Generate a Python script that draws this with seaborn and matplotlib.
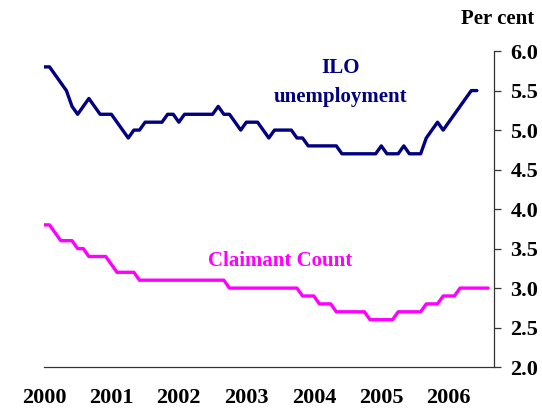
import numpy as np
import pandas as pd
import matplotlib
matplotlib.use('Agg')
import matplotlib.pyplot as plt
import seaborn as sns

# monthly rates, Jan 2000 onwards (per cent)
ilo = [5.8, 5.8, 5.7, 5.6, 5.5, 5.3, 5.2, 5.3, 5.4, 5.3, 5.2, 5.2,
       5.2, 5.1, 5.0, 4.9, 5.0, 5.0, 5.1, 5.1, 5.1, 5.1, 5.2, 5.2,
       5.1, 5.2, 5.2, 5.2, 5.2, 5.2, 5.2, 5.3, 5.2, 5.2, 5.1, 5.0,
       5.1, 5.1, 5.1, 5.0, 4.9, 5.0, 5.0, 5.0, 5.0, 4.9, 4.9, 4.8,
       4.8, 4.8, 4.8, 4.8, 4.8, 4.7, 4.7, 4.7, 4.7, 4.7, 4.7, 4.7,
       4.8, 4.7, 4.7, 4.7, 4.8, 4.7, 4.7, 4.7, 4.9, 5.0, 5.1, 5.0,
       5.1, 5.2, 5.3, 5.4, 5.5, 5.5]
claimant = [3.8, 3.8, 3.7, 3.6, 3.6, 3.6, 3.5, 3.5, 3.4, 3.4, 3.4, 3.4,
            3.3, 3.2, 3.2, 3.2, 3.2, 3.1, 3.1, 3.1, 3.1, 3.1, 3.1, 3.1,
            3.1, 3.1, 3.1, 3.1, 3.1, 3.1, 3.1, 3.1, 3.1, 3.0, 3.0, 3.0,
            3.0, 3.0, 3.0, 3.0, 3.0, 3.0, 3.0, 3.0, 3.0, 3.0, 2.9, 2.9,
            2.9, 2.8, 2.8, 2.8, 2.7, 2.7, 2.7, 2.7, 2.7, 2.7, 2.6, 2.6,
            2.6, 2.6, 2.6, 2.7, 2.7, 2.7, 2.7, 2.7, 2.8, 2.8, 2.8, 2.9,
            2.9, 2.9, 3.0, 3.0, 3.0, 3.0, 3.0, 3.0]
years = list(range(2000, 2007))
yticks = [2.0, 2.5, 3.0, 3.5, 4.0, 4.5, 5.0, 5.5, 6.0]

ilo_df = pd.DataFrame({'date': 2000 + np.arange(len(ilo)) / 12, 'rate': ilo})
cc_df = pd.DataFrame({'date': 2000 + np.arange(len(claimant)) / 12, 'rate': claimant})

sns.set_style('white')
plt.rcParams['font.family'] = ['Liberation Serif', 'DejaVu Serif']
plt.rcParams['font.weight'] = 'bold'
plt.rcParams['text.color'] = 'black'
plt.rcParams['xtick.color'] = 'black'
plt.rcParams['ytick.color'] = 'black'

fig = plt.figure(figsize=(5.42, 4.12), dpi=100)
ax = fig.add_axes([0.081, 0.109, 0.830, 0.767])

sns.lineplot(data=ilo_df, x='date', y='rate', color='#000080', linewidth=2.4, ax=ax)
sns.lineplot(data=cc_df, x='date', y='rate', color='#FF00FF', linewidth=2.4, ax=ax)

ax.set_xlim(2000, 2000 + 80 / 12)
ax.set_ylim(2.0, 6.0)
ax.set_xticks(years)
ax.set_xticklabels([str(y) for y in years])
ax.set_yticks(yticks)
ax.set_yticklabels(['%.1f' % v for v in yticks])
ax.yaxis.tick_right()
ax.set_xlabel('')
ax.set_ylabel('')

for s in ['left', 'top']:
    ax.spines[s].set_visible(False)
for s in ['bottom', 'right']:
    ax.spines[s].set_color('#333333')
    ax.spines[s].set_linewidth(0.9)

ax.tick_params(axis='x', direction='out', length=5, width=0.9, color='#333333',
               labelcolor='black', pad=10, labelsize=16)
ax.tick_params(axis='y', direction='out', length=5, width=0.9, color='#333333',
               labelcolor='black', pad=7, labelsize=16, right=True, left=False)
for lab in ax.get_xticklabels() + ax.get_yticklabels():
    lab.set_fontweight('bold')

# series labels, placed in data units
ax.text(2000 + (343 - 44) / 68, 2 + (367 - 68) / 79, 'ILO', color='#000080',
        fontsize=15, fontweight='bold', ha='center', va='center')
ax.text(2000 + (343 - 44) / 68, 2 + (367 - 97) / 79, 'unemployment', color='#000080',
        fontsize=15, fontweight='bold', ha='center', va='center')
ax.text(2000 + (282 - 44) / 68, 2 + (367 - 261) / 79, 'Claimant Count', color='#FF00FF',
        fontsize=15, fontweight='bold', ha='center', va='center')

fig.text(498 / 542, 1 - 19 / 412, 'Per cent', fontsize=15, fontweight='bold',
         color='black', ha='center', va='center')

fig.savefig('out.png', dpi=100)
